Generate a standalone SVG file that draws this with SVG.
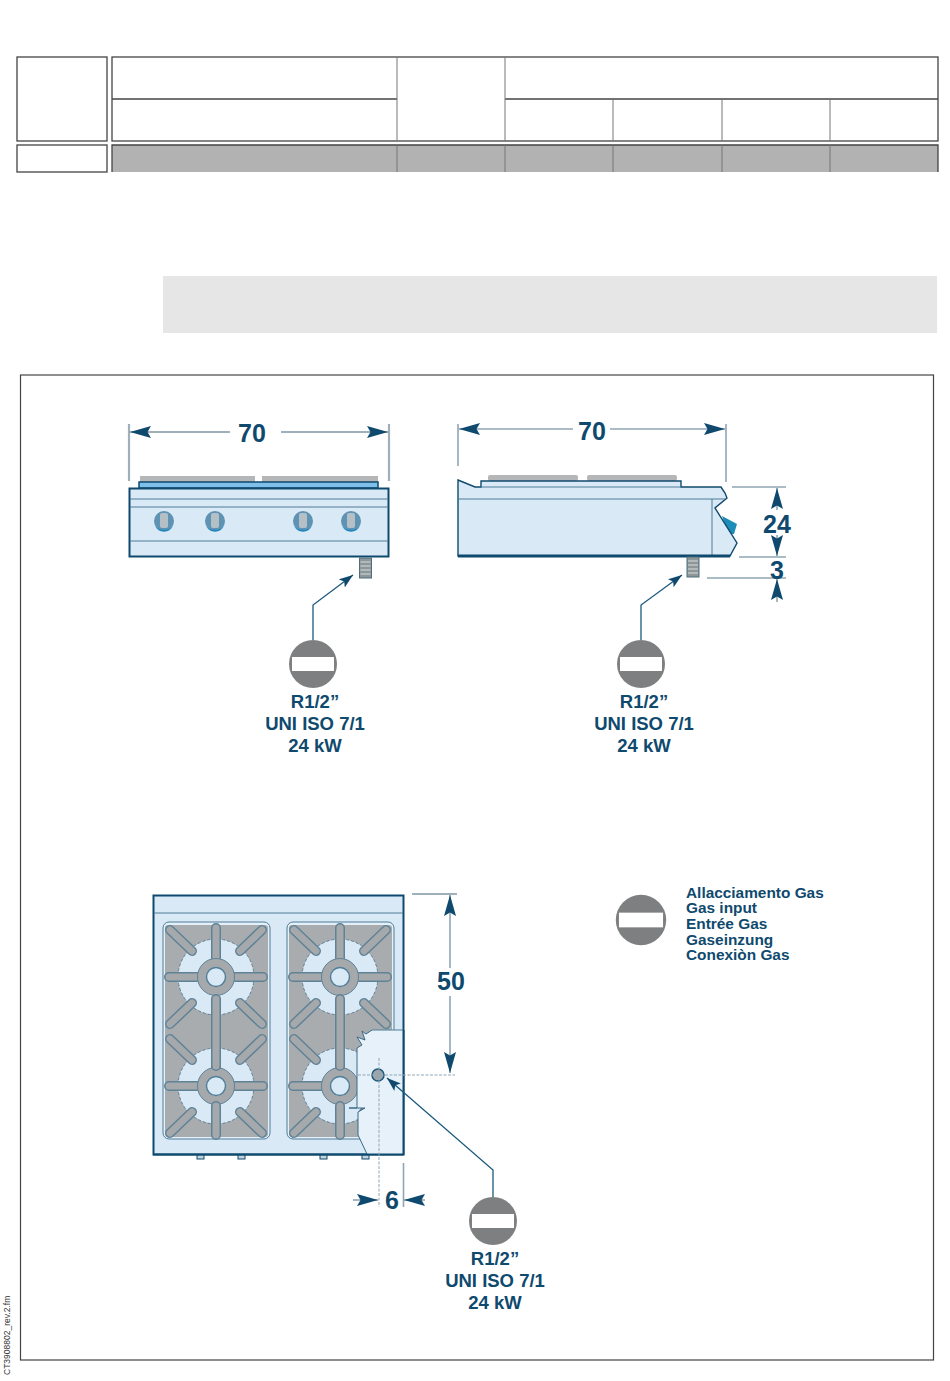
<svg xmlns="http://www.w3.org/2000/svg" xmlns:xlink="http://www.w3.org/1999/xlink" width="950" height="1381" viewBox="0 0 950 1381">
<style>
.t{fill:none;stroke:#444;stroke-width:1.3}
.ti{fill:none;stroke:#777;stroke-width:1}
.body{fill:#d9e9f6;stroke:#0f4a6e;stroke-width:2}
.thin{fill:#d9e9f6;stroke:#0f4a6e;stroke-width:1.4}
.in{fill:none;stroke:#4f7d98;stroke-width:1}
.gr{fill:#b4b6b7}
.lab{font-family:"Liberation Sans",Arial,sans-serif;font-weight:bold;fill:#0f4a6e}
.big{font-size:25px;text-anchor:middle}
.mid{font-size:18.5px;text-anchor:middle}
.leg{font-size:15.4px}
.dim{fill:none;stroke:#8fa6b4;stroke-width:1.6}
.dimh{fill:none;stroke:#9fb0ba;stroke-width:2.2}
.dimd{fill:none;stroke:#8fa6b4;stroke-width:1;stroke-dasharray:3 1.5}
.lead{fill:none;stroke:#1c5a7c;stroke-width:1.3}
.sa{fill:none;stroke:#5f8297;stroke-width:10;stroke-linecap:round}
.sb{fill:none;stroke:#a5a9ac;stroke-width:7;stroke-linecap:round}
</style>
<defs>
<marker id="da" markerUnits="userSpaceOnUse" markerWidth="24" markerHeight="14" refX="21" refY="6.500" orient="auto"><path d="M0,0.500 L21,6.500 L0,12.500 L3.500,6.500Z" fill="#0f4a6e"/></marker>
<marker id="la" markerUnits="userSpaceOnUse" markerWidth="16" markerHeight="11" refX="14" refY="5" orient="auto"><path d="M0,0 L14,5 L0,10 L3,5Z" fill="#0f4a6e"/></marker>
<g id="nosign"><circle r="24" fill="#7d7f80"/><rect x="-21" y="-7" width="42" height="14" fill="#fff"/></g>
<g id="thread"><rect x="0" y="0" width="12" height="20" fill="#8d9698" stroke="#4f6f80"/><path d="M1,4H11M1,8H11M1,12H11M1,16H11" stroke="#d8dcdc" stroke-width="1.2"/></g>
<g id="grate">
<circle r="38" fill="#d9e9f6" stroke="#5f8297" stroke-width="1" stroke-dasharray="3 2"/>
<path class="sa" d="M0,-49V-19M-47,0H-19M19,0H47M-46,-47L-24,-26M46,-47L24,-26M-46,47L-24,26M46,47L24,26"/>
<path class="sb" d="M0,-49V-19M-47,0H-19M19,0H47M-46,-47L-24,-26M46,-47L24,-26M-46,47L-24,26M46,47L24,26"/>
<circle r="14" fill="none" stroke="#a5a9ac" stroke-width="9"/>
<circle r="9.500" fill="#d9e9f6" stroke="#4f7d98" stroke-width="1.4"/>
<circle r="18.500" fill="none" stroke="#5f8297" stroke-width="1"/>
</g>
</defs>

<g id="table">
<rect x="17" y="57" width="90" height="84" fill="#fff" class="t"/>
<rect x="17" y="145" width="90" height="27" fill="#fff" class="t"/>
<rect x="112" y="145" width="826" height="27" fill="#b2b2b2"/>
<path class="t" d="M112,172V145H938V172"/>
<path class="ti" d="M397,145V172M505,145V172M613,145V172M722,145V172M830,145V172"/>
<rect x="112" y="57" width="826" height="84" fill="#fff" class="t"/>
<path class="t" d="M112,99H397M505,99H938"/>
<path class="ti" d="M397,57V141M505,57V141M613,99V141M722,99V141M830,99V141"/>
</g>
<rect id="band" x="163" y="276" width="774" height="57" fill="#e6e6e6"/>
<rect id="frame" x="20.500" y="375" width="913" height="985" fill="#fff" stroke="#444" stroke-width="1.2"/>
<text id="fileref" transform="translate(10,1375) rotate(-90)" font-family="Liberation Sans, Arial, sans-serif" font-size="8.500" fill="#333">CT3908802_rev.2.fm</text>

<g id="front-view">
<rect class="gr" x="140" y="476" width="115" height="6"/>
<rect class="gr" x="262" y="476" width="116" height="6"/>
<rect x="139" y="482" width="239" height="6" fill="#7fc0ea" stroke="#0f4a6e" stroke-width="1.5"/>
<rect class="body" x="129.500" y="488.500" width="259" height="68"/>
<path class="in" d="M130,499H388M130,507H388M130,541H388"/>
<g fill="#5f93b4">
<circle cx="164" cy="521" r="10"/><circle cx="215" cy="521" r="10"/><circle cx="303" cy="521" r="10"/><circle cx="351" cy="521" r="10"/>
</g>
<g fill="#1c86c0">
<path d="M155,526a10,10 0 0 0 18,0a12,12 0 0 1 -18,0Z"/><path d="M206,526a10,10 0 0 0 18,0a12,12 0 0 1 -18,0Z"/><path d="M294,526a10,10 0 0 0 18,0a12,12 0 0 1 -18,0Z"/><path d="M342,526a10,10 0 0 0 18,0a12,12 0 0 1 -18,0Z"/>
</g>
<g fill="#b4c0c6"><rect x="160" y="513" width="8" height="15" rx="2"/><rect x="211" y="513" width="8" height="15" rx="2"/><rect x="299" y="513" width="8" height="15" rx="2"/><rect x="347" y="513" width="8" height="15" rx="2"/></g>
<use xlink:href="#thread" href="#thread" x="359.500" y="558"/>
</g>

<g id="side-view">
<rect class="gr" x="488" y="475" width="90" height="6" rx="2"/>
<rect class="gr" x="587" y="475" width="90" height="6" rx="2"/>
<path d="M722,516L737,524L734,534L728,534Z" fill="#1c8cb8"/>
<path class="thin" d="M458,480L475,487H481V481H681V487H721L725,493L727,498L715,508L737,543L730,556H458Z"/>
<path class="in" d="M458,499H725M712,499V556M481,487H681"/>
<path d="M458,556H730" fill="none" stroke="#0f4a6e" stroke-width="3"/>
<use xlink:href="#thread" href="#thread" x="687" y="557"/>
</g>

<g id="top-view">
<rect class="body" x="153.500" y="895.500" width="250" height="259"/>
<path class="in" d="M154,913H403"/>
<g fill="#c4d4de" stroke="#0f4a6e" stroke-width="1"><rect x="197" y="1155" width="7" height="4"/><rect x="238" y="1155" width="7" height="4"/><rect x="320" y="1155" width="7" height="4"/><rect x="362" y="1155" width="7" height="4"/></g>
<rect x="163" y="922" width="107" height="217" rx="6" fill="#e3eff9" stroke="#4f7d98"/>
<rect x="165" y="925" width="103" height="212" rx="3" fill="#a9acae"/>
<rect x="287" y="922" width="107" height="217" rx="6" fill="#e3eff9" stroke="#4f7d98"/>
<rect x="289" y="925" width="103" height="212" rx="3" fill="#a9acae"/>
<use xlink:href="#grate" href="#grate" x="216" y="977"/>
<use xlink:href="#grate" href="#grate" x="216" y="1086"/>
<use xlink:href="#grate" href="#grate" x="340" y="977"/>
<use xlink:href="#grate" href="#grate" x="340" y="1086"/>
<path d="M216,999V1066M340,999V1066" class="sa"/>
<path d="M216,999V1066M340,999V1066" class="sb"/>
<path d="M216,1106V1135M340,1106V1135" class="sa"/>
<path d="M216,1106V1135M340,1106V1135" class="sb"/>
<path d="M372,1030L366,1034L362,1031L365,1040L357,1037L362,1045L357,1048V1108H349L365,1108L358,1112V1135L367,1154H403V1030Z" fill="#e6f1fa"/>
<path d="M372,1030L366,1034L362,1031L365,1040L357,1037L362,1045L357,1048V1108H349L365,1108L358,1112V1135L367,1154" fill="none" stroke="#3a6a86" stroke-width="1"/>
<path d="M372,1030H403" stroke="#4f7d98" stroke-width="1"/>
<path d="M153,1154.500H403.500M403.500,1030V1155" fill="none" stroke="#0f4a6e" stroke-width="2"/>
<circle cx="378" cy="1075" r="6" fill="#9ea6ab" stroke="#1c5a7c" stroke-width="1.500"/>
</g>

<g id="connectors">
<path class="dimh" d="M129,424V481M389,424V481"/>
<path class="dim" d="M458,424V466M726,424V482"/>
<path class="dimh" d="M230,432H130" marker-end="url(#da)"/>
<path class="dimh" d="M281,432H388" marker-end="url(#da)"/>
<path class="dim" d="M573,429H459" marker-end="url(#da)"/>
<path class="dim" d="M610,429H725" marker-end="url(#da)"/>
<path class="dim" d="M732,487H786M739,557H786M707,578H786"/>
<path class="dim" d="M777,510V488" marker-end="url(#da)"/>
<path class="dim" d="M777,535V556" marker-end="url(#da)"/>
<path class="dim" d="M777,602V579" marker-end="url(#da)"/>
<path class="dimh" d="M412,894H457"/>
<path class="dim" d="M450,968V895" marker-end="url(#da)"/>
<path class="dim" d="M450,996V1073" marker-end="url(#da)"/>
<path class="dimd" d="M358,1075H455M379,1058V1207"/>
<path class="dim" d="M403.500,1163V1207"/>
<path class="dim" d="M353,1200H378" marker-end="url(#da)"/>
<path class="dim" d="M425,1200H404" marker-end="url(#da)"/>
<path class="lead" d="M313,640V605L353,575" marker-end="url(#la)"/>
<path class="lead" d="M641,640V605L682,575" marker-end="url(#la)"/>
<path class="lead" d="M493,1197V1170L387,1078" marker-end="url(#la)"/>
</g>

<g id="gas-front"><use xlink:href="#nosign" href="#nosign" x="313" y="664"/>
<text class="lab mid" x="315" y="708">R1/2”</text><text class="lab mid" x="315" y="730">UNI ISO 7/1</text><text class="lab mid" x="315" y="752">24 kW</text></g>
<g id="gas-side"><use xlink:href="#nosign" href="#nosign" x="641" y="664"/>
<text class="lab mid" x="644" y="708">R1/2”</text><text class="lab mid" x="644" y="730">UNI ISO 7/1</text><text class="lab mid" x="644" y="752">24 kW</text></g>
<g id="gas-top"><use xlink:href="#nosign" href="#nosign" x="493" y="1221"/>
<text class="lab mid" x="495" y="1265">R1/2”</text><text class="lab mid" x="495" y="1287">UNI ISO 7/1</text><text class="lab mid" x="495" y="1309">24 kW</text></g>
<g id="legend"><use xlink:href="#nosign" href="#nosign" transform="translate(641,920) scale(1.05)"/>
<text class="lab leg" x="686" y="898">Allacciamento Gas</text>
<text class="lab leg" x="686" y="913">Gas input</text>
<text class="lab leg" x="686" y="929">Entrée Gas</text>
<text class="lab leg" x="686" y="945">Gaseinzung</text>
<text class="lab leg" x="686" y="960">Conexiòn Gas</text></g>
<g id="dim-labels">
<text class="lab big" x="252" y="442">70</text>
<text class="lab big" x="592" y="440">70</text>
<text class="lab big" x="777" y="533">24</text>
<text class="lab big" x="777" y="579">3</text>
<text class="lab big" x="451" y="990">50</text>
<text class="lab big" x="392" y="1209">6</text>
</g>
</svg>
